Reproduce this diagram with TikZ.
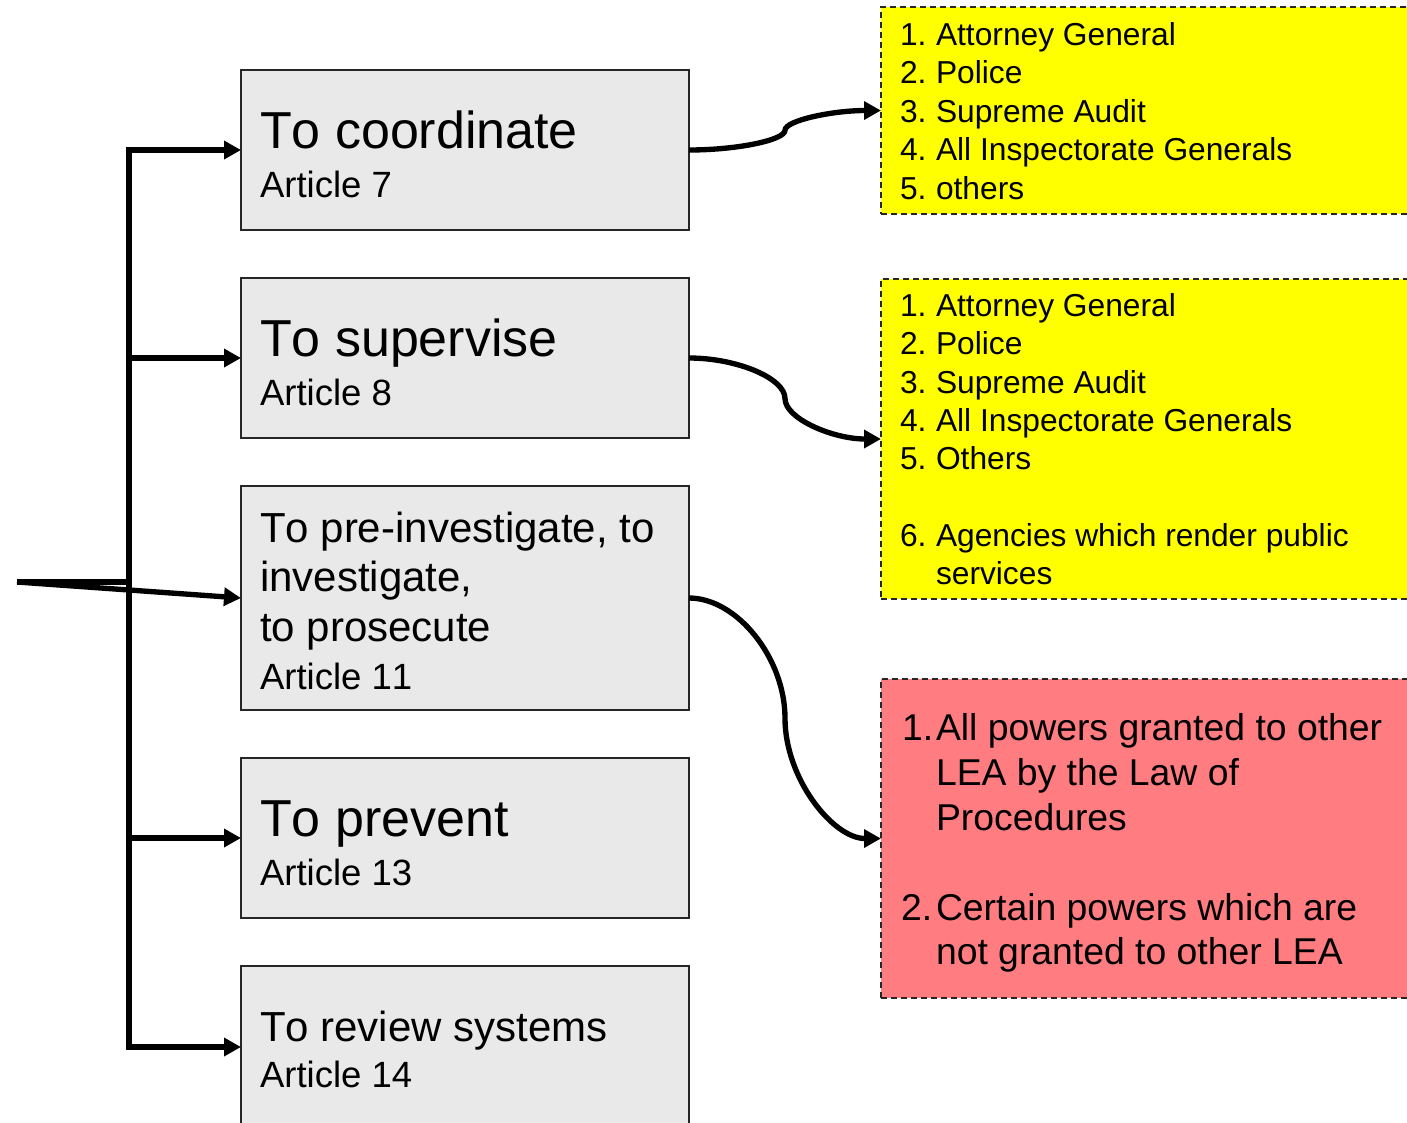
\documentclass[tikz,border=0pt]{standalone}
\usepackage{fontspec}
\setmainfont{Liberation Sans}[Kerning=Off]
\usetikzlibrary{arrows.meta,fit}
\definecolor{boxgray}{HTML}{E9E9E9}
\definecolor{lyellow}{HTML}{FFFF00}
\definecolor{lred}{HTML}{FF7C80}
\begin{document}
\begin{tikzpicture}[x=0.75pt,y=-0.75pt,
  mainbox/.style={draw=black!85, line width=1.3pt, fill=boxgray, inner sep=0pt, outer sep=0pt},
  listbox/.style={draw=black!85, line width=1.4pt, dash pattern=on 4.5pt off 3pt, inner sep=0pt, outer sep=0pt},
  txt/.style={inner sep=0pt, outer sep=0pt, anchor=base west, text=black},
  ttl/.style={txt, font=\fontsize{39}{47}\selectfont},
  midt/.style={txt, font=\fontsize{31.5}{38}\selectfont},
  art/.style={txt, font=\fontsize{27.4}{33}\selectfont},
  ytxt/.style={txt, font=\fontsize{23.8}{29}\selectfont},
  rtxt/.style={txt, font=\fontsize{28}{34}\selectfont},
  trunk/.style={line width=4pt, line cap=rect},
  conn/.style={line width=4pt, -{Triangle[length=12.75pt,width=13.3pt]}}
]
\useasboundingbox (0,0) rectangle (1407,1122);
\path[clip] (0,0) rectangle (1407,1122);

% main boxes
\node[mainbox, fit={(241,70)(689,230)}] (b1) {};
\node[mainbox, fit={(241,278)(689,438)}] (b2) {};
\node[mainbox, fit={(241,486)(689,710)}] (b3) {};
\node[mainbox, fit={(241,758)(689,918)}] (b4) {};
\node[mainbox, fit={(241,966)(689,1128)}] (b5) {};

% list boxes
\node[listbox, fill=lyellow, fit={(881,7)(1420,214)}] (y1) {};
\node[listbox, fill=lyellow, fit={(881,279)(1420,599)}] (y2) {};
\node[listbox, fill=lred, fit={(881,679)(1420,998)}] (r1) {};

% main box texts
\node[ttl] (b1t) at (260,148) {To coordinate};
\node[art] (b1a) at (260,197) {Article 7};
\node[ttl] (b2t) at (260,356) {To supervise};
\node[art] (b2a) at (260,405) {Article 8};
\node[midt] (b3t1) at (260,542) {To pre-investigate, to};
\node[midt] (b3t2) at (260,591) {investigate,};
\node[midt] (b3t3) at (260,641) {to prosecute};
\node[art] (b3a) at (260,689) {Article 11};
\node[ttl] (b4t) at (260,836) {To prevent};
\node[art] (b4a) at (260,885) {Article 13};
\node[midt] (b5t) at (260,1041) {To review systems};
\node[art] (b5a) at (260,1087) {Article 14};

% yellow list 1
\node[ytxt] (y1n1) at (900,45) {1.};
\node[ytxt] (y1l1) at (936,45) {Attorney General};
\node[ytxt] (y1n2) at (900,83.5) {2.};
\node[ytxt] (y1l2) at (936,83.5) {Police};
\node[ytxt] (y1n3) at (900,122) {3.};
\node[ytxt] (y1l3) at (936,122) {Supreme Audit};
\node[ytxt] (y1n4) at (900,160.5) {4.};
\node[ytxt] (y1l4) at (936,160.5) {All Inspectorate Generals};
\node[ytxt] (y1n5) at (900,199) {5.};
\node[ytxt] (y1l5) at (936,199) {others};

% yellow list 2
\node[ytxt] (y2n1) at (900,316.5) {1.};
\node[ytxt] (y2l1) at (936,316.5) {Attorney General};
\node[ytxt] (y2n2) at (900,354.5) {2.};
\node[ytxt] (y2l2) at (936,354.5) {Police};
\node[ytxt] (y2n3) at (900,393) {3.};
\node[ytxt] (y2l3) at (936,393) {Supreme Audit};
\node[ytxt] (y2n4) at (900,431) {4.};
\node[ytxt] (y2l4) at (936,431) {All Inspectorate Generals};
\node[ytxt] (y2n5) at (900,469) {5.};
\node[ytxt] (y2l5) at (936,469) {Others};
\node[ytxt] (y2n6) at (900,546) {6.};
\node[ytxt] (y2l6) at (936,546) {Agencies which render public};
\node[ytxt] (y2l7) at (936,584) {services};

% red list
\node[rtxt] (r1n1) at (902,740) {1.};
\node[rtxt] (r1l1) at (936,740) {All powers granted to other};
\node[rtxt] (r1l2) at (936,785) {LEA by the Law of};
\node[rtxt] (r1l3) at (936,830) {Procedures};
\node[rtxt] (r1n2) at (901,920) {2.};
\node[rtxt] (r1l4) at (936,920) {Certain powers which are};
\node[rtxt] (r1l5) at (936,964) {not granted to other LEA};

% trunk and branches
\coordinate (t1) at (129,150);
\coordinate (t2) at (129,358);
\coordinate (t4) at (129,838);
\coordinate (t5) at (129,1047);
\coordinate (s) at (17,582);
\coordinate (j) at (129,582);
\draw[trunk] (t1) -- (t5);
\draw[conn] (t1) -- (b1.west);
\draw[conn] (t2) -- (b2.west);
\draw[conn] (t4) -- (b4.west);
\draw[conn] (t5) -- (b5.west);
\draw[trunk, line cap=butt] (s) -- (j);
\draw[conn] (s) -- (b3.west);

% curved connectors
\draw[conn] (b1.east) .. controls (737,150) and (785,140.1) .. (785,130.25)
  .. controls (785,120.4) and (833,110.5) .. (y1.west);
\draw[conn] (b2.east) .. controls (737,358) and (785,378.25) .. (785,398.5)
  .. controls (785,418.75) and (833,439) .. (y2.west);
\draw[conn] (b3.east) .. controls (737,598) and (785,658.1) .. (785,718.25)
  .. controls (785,778.4) and (833,838.5) .. (r1.west);
\end{tikzpicture}
\end{document}
